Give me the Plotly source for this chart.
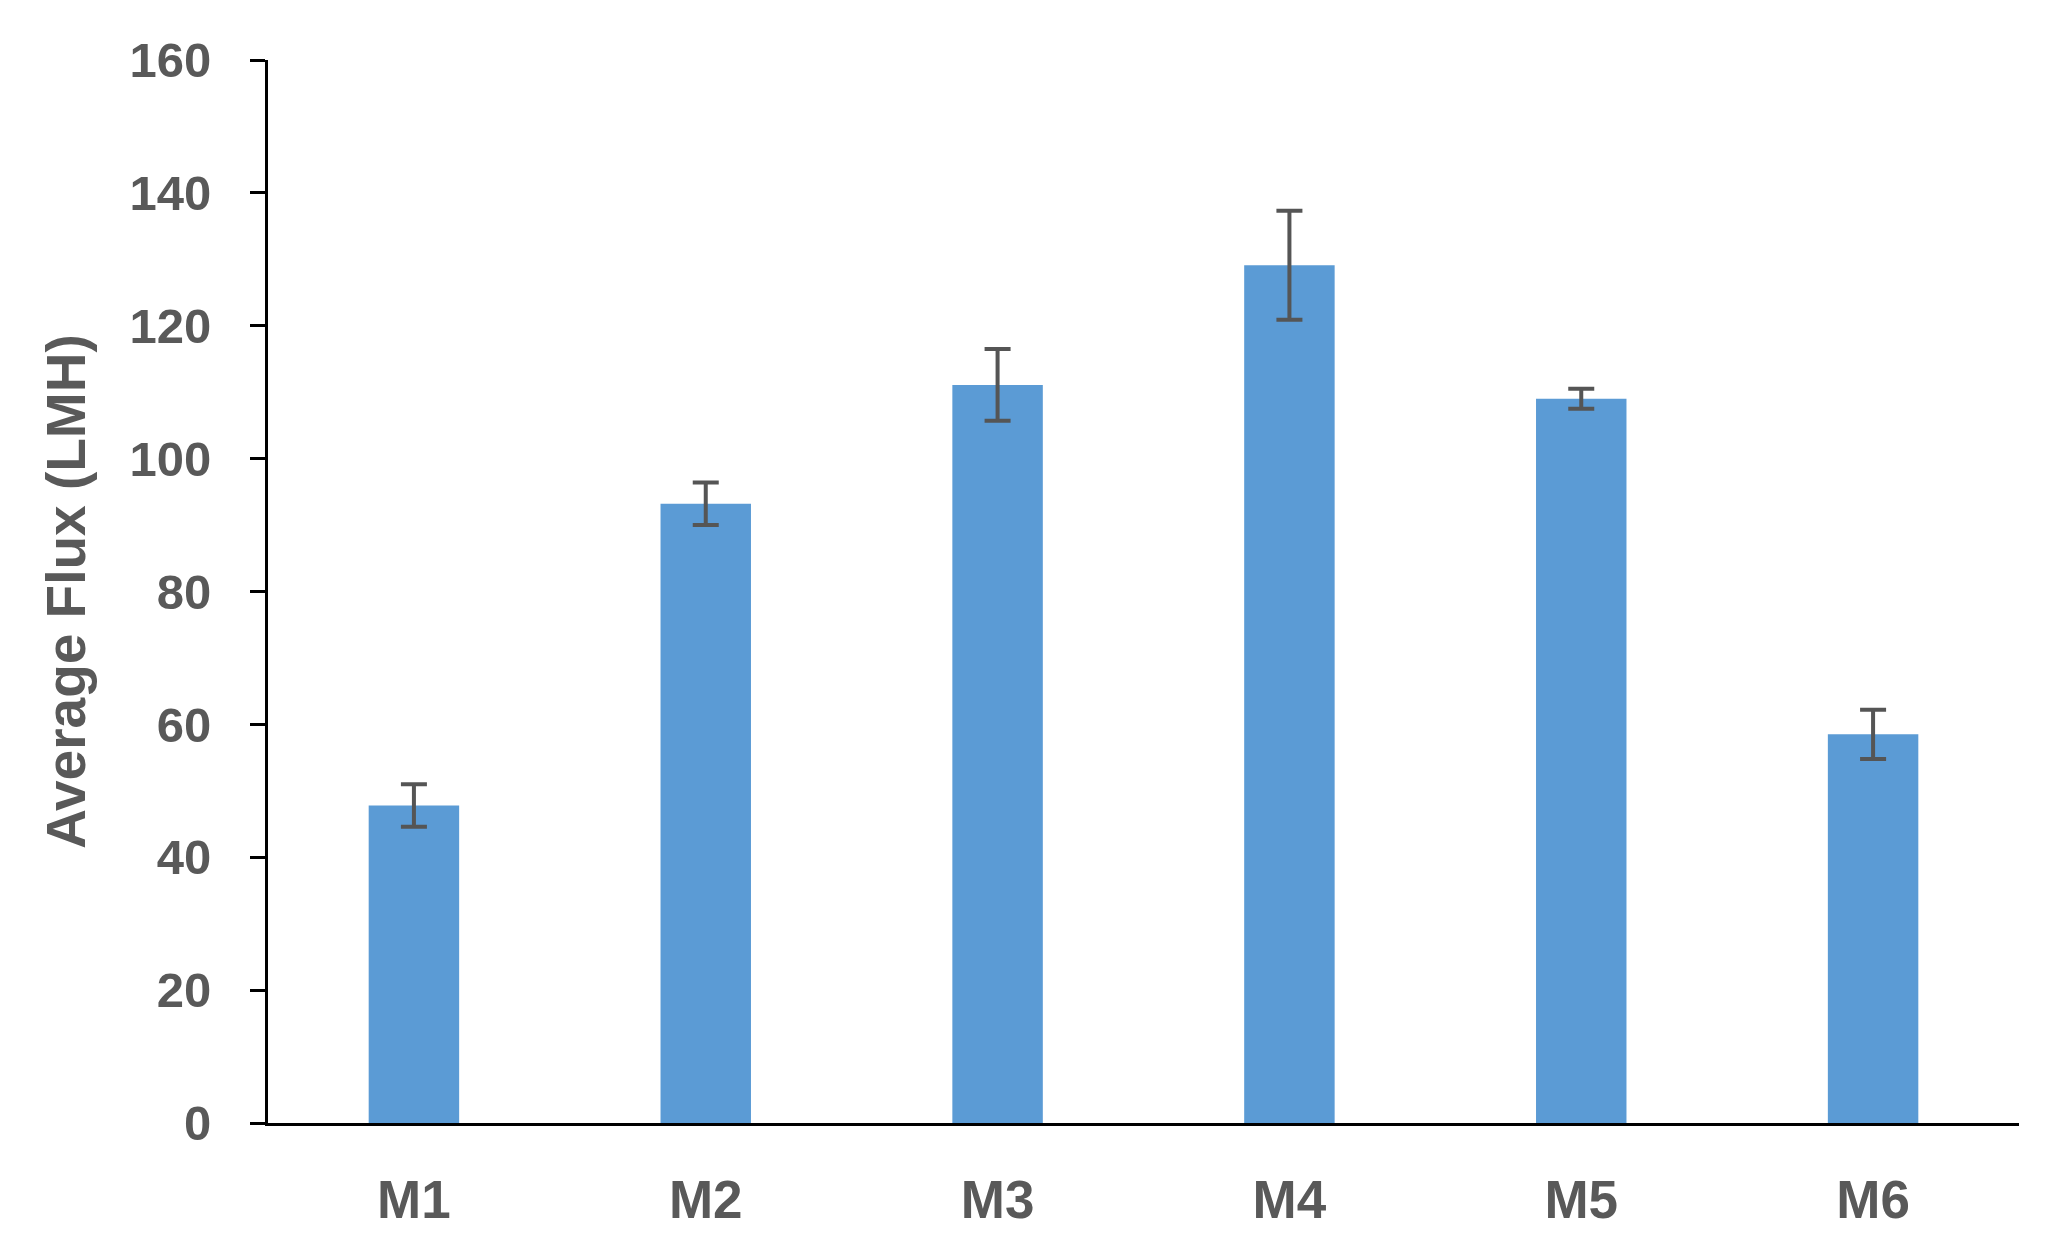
import plotly.graph_objects as go

categories = ["M1", "M2", "M3", "M4", "M5", "M6"]
flux = [47.8, 93.2, 111.1, 129.1, 109.0, 58.5]
flux_err = [3.2, 3.2, 5.4, 8.2, 1.5, 3.7]
y_ticks = [0, 20, 40, 60, 80, 100, 120, 140, 160]

FONT = "Liberation Sans, Arial, sans-serif"
GRAY = "#595959"

fig = go.Figure()
fig.add_trace(go.Bar(
    x=categories,
    y=flux,
    width=0.31,
    marker=dict(color="#5B9BD5", line=dict(width=0)),
    error_y=dict(type="data", array=flux_err, visible=True,
                 color="#555555", thickness=4, width=13),
))

fig.update_layout(
    width=2052, height=1260,
    margin=dict(l=260, r=41, t=52, b=145),
    paper_bgcolor="white", plot_bgcolor="white",
    showlegend=False,
    font=dict(family=FONT, color=GRAY),
)
fig.update_xaxes(
    range=[-0.5, 5.5],
    automargin=False,
    showline=True, linecolor="black", linewidth=3,
    showgrid=False, ticks="",
    tickfont=dict(family=FONT, size=53, color=GRAY, weight="bold"),
    ticklabelstandoff=28,
)
fig.update_yaxes(
    range=[0, 160],
    automargin=False,
    tickvals=y_ticks,
    showline=True, linecolor="black", linewidth=3,
    showgrid=False, zeroline=False,
    ticks="outside", ticklen=15, tickwidth=3, tickcolor="black",
    tickfont=dict(family=FONT, size=49, color=GRAY, weight="bold"),
    ticklabelstandoff=29,
    title=dict(text="Average Flux (LMH)",
               font=dict(family=FONT, size=55, color=GRAY, weight="bold"),
               standoff=27),
)

fig.write_html("out.html")
